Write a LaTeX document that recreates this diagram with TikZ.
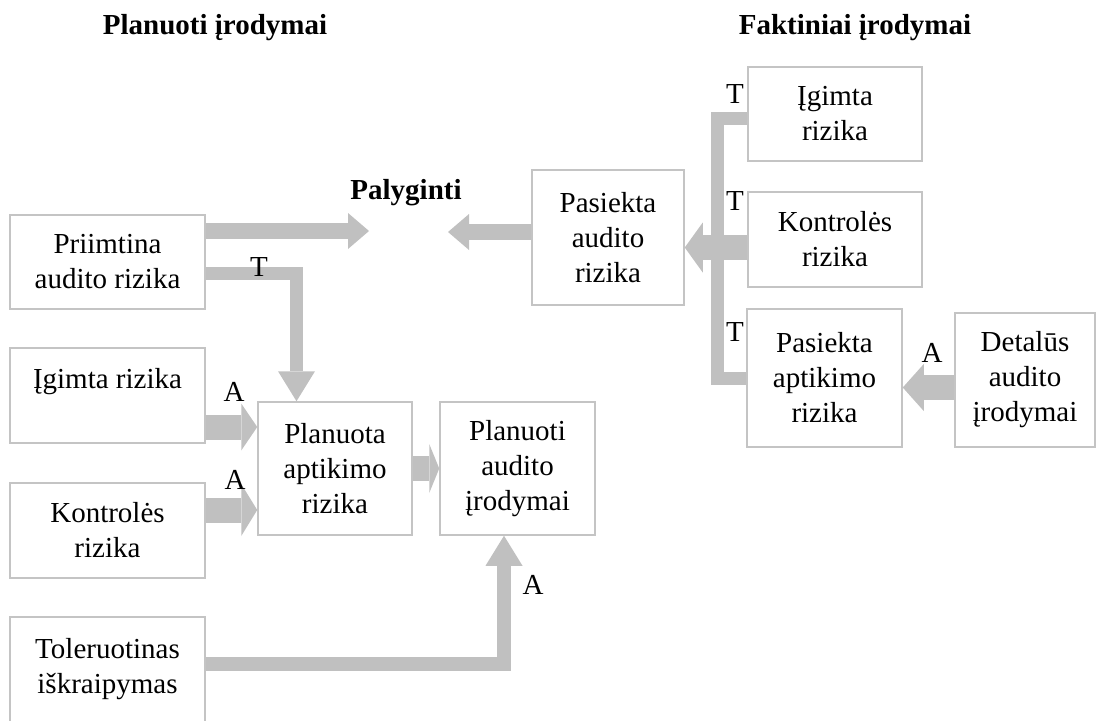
\documentclass[tikz,border=0pt]{standalone}
\usepackage{fontspec}
\setmainfont{Liberation Serif}
\usepackage{tikz}
\usetikzlibrary{arrows.meta, positioning}
\definecolor{arrowgray}{RGB}{192, 192, 192}
\definecolor{boxgray}{RGB}{196, 196, 196}

\begin{document}
\begin{tikzpicture}[x=1pt, y=-1pt,
        box/.style={draw=boxgray, line width=1.5pt, align=center, inner sep=0pt, font=\fontsize{29}{35}\selectfont},
        lbl/.style={inner sep=0pt, font=\fontsize{29}{35}\selectfont},
        ttl/.style={inner sep=0pt, font=\fontsize{29}{35}\selectfont\bfseries},
        fatarrow/.style={draw=arrowgray, line width=25pt, -{Triangle[length=18pt, width=50pt, line width=0pt]}},
        medarrow/.style={draw=arrowgray, line width=16pt, -{Triangle[length=21pt, width=36pt, line width=0pt]}},
        elbowarrow/.style={draw=arrowgray, line width=14pt, -{Triangle[length=30pt, width=37pt, line width=0pt]}},
        busline/.style={draw=arrowgray, line width=13pt}]
            \useasboundingbox (0,0) rectangle (1100,720);
            \clip (0,0) rectangle (1100,720);

            % planned side
            \node[ttl] (titleL) at (215,28) {Planuoti įrodymai};
            \node[box, minimum width=195pt, minimum height=94pt] (priim) at (107.5,262) {Priimtina\\audito rizika};
            \node[box, minimum width=195pt, minimum height=95pt] (igimL) at (107.5,395.5) {Įgimta rizika\\~};
            \node[box, minimum width=195pt, minimum height=95pt] (kontL) at (107.5,530.5) {Kontrolės\\rizika};
            \node[box, minimum width=195pt, minimum height=132pt] (toler) at (107.5,683) {Toleruotinas\\iškraipymas\\~};
            \node[box, minimum width=154pt, minimum height=133pt] (planA) at (335,468.5) {Planuota\\aptikimo\\rizika};
            \node[box, minimum width=155pt, minimum height=133pt] (planI) at (517.5,468.5) {Planuoti\\audito\\įrodymai};

            % actual side
            \node[ttl] (titleR) at (855,28) {Faktiniai įrodymai};
            \node[box, minimum width=152pt, minimum height=135pt] (pasA) at (608,237.5) {Pasiekta\\audito\\rizika};
            \node[box, minimum width=174pt, minimum height=94pt] (igimR) at (835,114) {Įgimta\\rizika};
            \node[box, minimum width=174pt, minimum height=95pt] (kontR) at (835,239.5) {Kontrolės\\rizika};
            \node[box, minimum width=155pt, minimum height=138pt] (pasR) at (824.5,378) {Pasiekta\\aptikimo\\rizika};
            \node[box, minimum width=140pt, minimum height=134pt] (detal) at (1025,380) {Detalūs\\audito\\įrodymai};

            \node[ttl] (palyg) at (406,193) {Palyginti};
            \coordinate (cmpL) at (369,231);
            \coordinate (cmpR) at (448,232);
            \draw[medarrow] (priim.east |- cmpL) to (cmpL);
            \draw[medarrow] (pasA.west |- cmpR) to (cmpR);

            \coordinate (bendT) at (296.5,273.5);
            \draw[elbowarrow, line width=13pt] (priim.east |- bendT) -| (planA.north -| bendT);
            \coordinate (aIg) at ([yshift=-31.5pt]igimL.east);
            \coordinate (aKo) at ([yshift=20.5pt]kontL.east);
            \draw[fatarrow, -{Triangle[length=16pt, width=47pt, line width=0pt]}] (aIg) to (aIg -| planA.west);
            \draw[fatarrow, -{Triangle[length=16pt, width=52pt, line width=0pt]}] (aKo) to (aKo -| planA.west);
            \draw[fatarrow, -{Triangle[length=10pt, width=49pt, line width=0pt]}] (planA.east) to (planI.west);
            \coordinate (bendA) at (504,663.5);
            \draw[elbowarrow] (toler.east |- bendA) -| (planI.south -| bendA);

            \draw[busline] ([yshift=-4pt]igimR.west) -- ++(-30,0) |- (pasR.west);
            \coordinate (kOut) at ([yshift=-8pt]kontR.west);
            \draw[fatarrow] (kOut) to (kOut -| pasA.east);
            \coordinate (dOut) at ([yshift=-7.5pt]detal.west);
            \draw[fatarrow, -{Triangle[length=21pt, width=47pt, line width=0pt]}] (dOut) to (dOut -| pasR.east);

            % T / A marks
            \node[lbl] (tPri) at (259,267) {T};
            \node[lbl] (aIgL) at (234,392) {A};
            \node[lbl] (aKoL) at (235,480) {A};
            \node[lbl] (aTol) at (533,585) {A};
            \node[lbl] (tIgR) at (735,94) {T};
            \node[lbl] (tKoR) at (735,201) {T};
            \node[lbl] (tPaR) at (735,332) {T};
            \node[lbl] (aDet) at (932,353) {A};
        \end{tikzpicture}
\end{document}
